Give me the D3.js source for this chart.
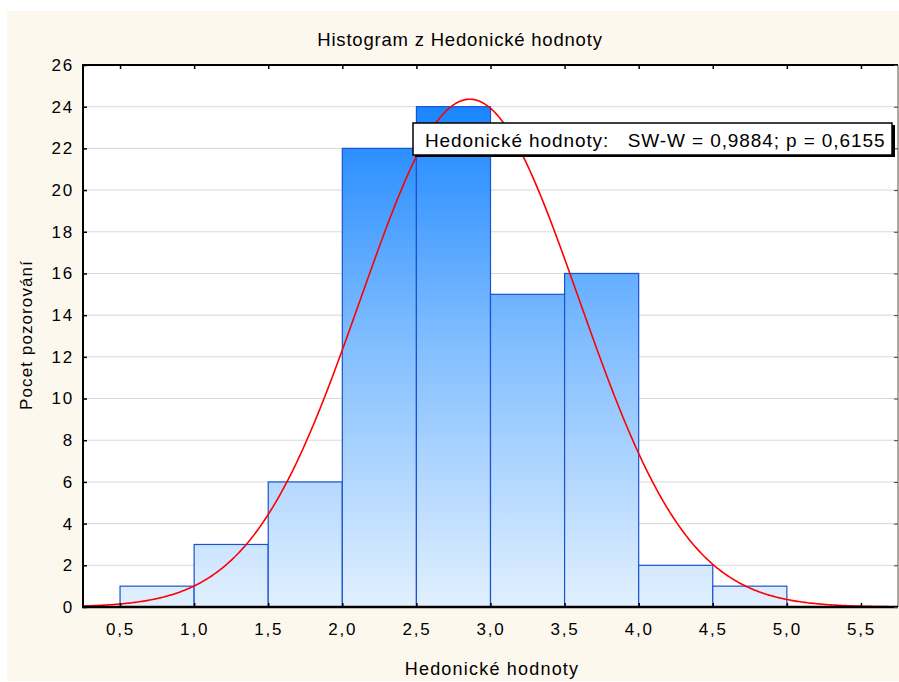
<!DOCTYPE html>
<html>
<head>
<meta charset="utf-8">
<script src="https://cdn.jsdelivr.net/npm/d3@7"></script>
<style>
  body { margin: 0; background: #fff; }
  svg { display: block; font-family: "Liberation Sans", Arial, sans-serif; }
</style>
</head>
<body>
<script>
// histogram bins (lower edge, upper edge) and counts
const binStarts = [0.5, 1.0, 1.5, 2.0, 2.5, 3.0, 3.5, 4.0, 4.5];
const binEnds = [1.0, 1.5, 2.0, 2.5, 3.0, 3.5, 4.0, 4.5, 5.0];
const counts = [1, 3, 6, 22, 24, 15, 16, 2, 1];

// fitted normal curve parameters
const fitMean = 2.86;
const fitSd = 0.737;

const xTicks = [0.5, 1.0, 1.5, 2.0, 2.5, 3.0, 3.5, 4.0, 4.5, 5.0, 5.5];
const yTicks = [0, 2, 4, 6, 8, 10, 12, 14, 16, 18, 20, 22, 24, 26];

const titleText = 'Histogram z Hedonické hodnoty';
const xLabel = 'Hedonické hodnoty';
const yLabel = 'Pocet pozorování';
const legendText = 'Hedonické hodnoty:   SW-W = 0,9884; p = 0,6155';

const width = 899;
const height = 682;
const plot = { left: 83, top: 65, right: 898, bottom: 607 };

const svg = d3.select('body').append('svg')
  .attr('width', width)
  .attr('height', height);

// cream background panel
svg.append('rect')
  .attr('x', 7).attr('y', 11)
  .attr('width', width - 7).attr('height', 670)
  .attr('fill', '#fdf8ee');

const x = d3.scaleLinear().domain([0.25, 5.75]).range([plot.left, plot.right]);
const y = d3.scaleLinear().domain([0, 26]).range([plot.bottom, plot.top]);

// plot background
svg.append('rect')
  .attr('x', plot.left).attr('y', plot.top)
  .attr('width', plot.right - plot.left).attr('height', plot.bottom - plot.top)
  .attr('fill', '#fff');

// gradient for the bars, in plot space
const grad = svg.append('defs').append('linearGradient')
  .attr('id', 'barGrad')
  .attr('gradientUnits', 'userSpaceOnUse')
  .attr('x1', 0).attr('x2', 0)
  .attr('y1', y(24)).attr('y2', y(0));
grad.append('stop').attr('offset', '0%').attr('stop-color', '#1a86ff');
grad.append('stop').attr('offset', '45%').attr('stop-color', '#7dbbff');
grad.append('stop').attr('offset', '100%').attr('stop-color', '#e2f0ff');

// horizontal grid
svg.append('g')
  .selectAll('line')
  .data(yTicks.filter((d) => d > 0 && d < 26))
  .join('line')
  .attr('x1', plot.left).attr('x2', plot.right)
  .attr('y1', (d) => y(d)).attr('y2', (d) => y(d))
  .attr('stroke', '#d9d9d9')
  .attr('stroke-width', 1);

// bars
svg.append('g')
  .selectAll('rect')
  .data(counts.map((c, i) => ({ x0: binStarts[i], x1: binEnds[i], c })))
  .join('rect')
  .attr('x', (d) => x(d.x0))
  .attr('y', (d) => y(d.c))
  .attr('width', (d) => x(d.x1) - x(d.x0))
  .attr('height', (d) => y(0) - y(d.c))
  .attr('fill', 'url(#barGrad)')
  .attr('stroke', '#1a52d0')
  .attr('stroke-width', 1.2);

// normal curve scaled to counts
const n = d3.sum(counts);
const binWidth = binEnds[0] - binStarts[0];
const curveXs = d3.range(x.domain()[0], x.domain()[1] + 0.001, 0.01);
const normal = (v) =>
  (n * binWidth) / (fitSd * Math.sqrt(2 * Math.PI)) *
  Math.exp(-0.5 * ((v - fitMean) / fitSd) ** 2);

svg.append('path')
  .datum(curveXs)
  .attr('fill', 'none')
  .attr('stroke', '#ff0000')
  .attr('stroke-width', 1.6)
  .attr('d', d3.line().x((d) => x(d)).y((d) => y(normal(d))));

// frame
const frame = svg.append('g');
frame.append('line')
  .attr('x1', plot.right).attr('x2', plot.right)
  .attr('y1', plot.top).attr('y2', plot.bottom)
  .attr('stroke', '#555').attr('stroke-width', 1);
frame.append('line')
  .attr('x1', plot.left).attr('x2', plot.right)
  .attr('y1', plot.top).attr('y2', plot.top)
  .attr('stroke', '#000').attr('stroke-width', 2);
frame.append('line')
  .attr('x1', plot.left).attr('x2', plot.left)
  .attr('y1', plot.top - 1).attr('y2', plot.bottom + 1)
  .attr('stroke', '#000').attr('stroke-width', 2);
frame.append('line')
  .attr('x1', plot.left - 1).attr('x2', plot.right)
  .attr('y1', plot.bottom).attr('y2', plot.bottom)
  .attr('stroke', '#000').attr('stroke-width', 2.5);

// axes (ticks point inwards)
const fmt = (d) => d3.format('.1f')(d).replace('.', ',');

const xAxis = svg.append('g')
  .attr('transform', `translate(0,${plot.bottom})`)
  .call(d3.axisBottom(x).tickValues(xTicks).tickSize(-4).tickPadding(16).tickFormat(fmt));
const xTop = svg.append('g')
  .attr('transform', `translate(0,${plot.top})`)
  .call(d3.axisTop(x).tickValues(xTicks).tickSize(-4).tickFormat(''));
const yAxis = svg.append('g')
  .attr('transform', `translate(${plot.left},0)`)
  .call(d3.axisLeft(y).tickValues(yTicks).tickSize(-4).tickPadding(9));
const yRight = svg.append('g')
  .attr('transform', `translate(${plot.right},0)`)
  .call(d3.axisRight(y).tickValues(yTicks).tickSize(-4).tickFormat(''));

[xAxis, xTop, yAxis, yRight].forEach((g) => {
  g.select('.domain').remove();
  g.selectAll('.tick line').attr('stroke', '#000').attr('stroke-width', 1.5);
  g.selectAll('.tick text')
    .attr('fill', '#000')
    .attr('font-size', 17)
    .attr('letter-spacing', 1.8)
    .attr('font-family', '"Liberation Sans", Arial, sans-serif');
});
yRight.selectAll('.tick line').attr('stroke', '#444').attr('stroke-width', 1);

// legend box with test result
const legend = svg.append('g').attr('transform', 'translate(413,123)');
legend.append('rect')
  .attr('x', 2).attr('y', 2)
  .attr('width', 480).attr('height', 32)
  .attr('fill', '#000');
legend.append('rect')
  .attr('width', 479).attr('height', 32)
  .attr('fill', '#fff')
  .attr('stroke', '#000')
  .attr('stroke-width', 1.5);
legend.append('text')
  .attr('x', 12).attr('y', 24)
  .attr('font-size', 19)
  .attr('letter-spacing', 0.9)
  .attr('xml:space', 'preserve')
  .style('white-space', 'pre')
  .text(legendText);

// titles
svg.append('text')
  .attr('x', 460).attr('y', 46)
  .attr('text-anchor', 'middle')
  .attr('font-size', 18.5)
  .attr('letter-spacing', 0.8)
  .text(titleText);

svg.append('text')
  .attr('x', 492).attr('y', 675)
  .attr('text-anchor', 'middle')
  .attr('font-size', 18)
  .attr('letter-spacing', 1.2)
  .text(xLabel);

svg.append('text')
  .attr('transform', 'translate(32,335) rotate(-90)')
  .attr('text-anchor', 'middle')
  .attr('font-size', 17)
  .attr('letter-spacing', 1.1)
  .text(yLabel);
</script>
</body>
</html>
